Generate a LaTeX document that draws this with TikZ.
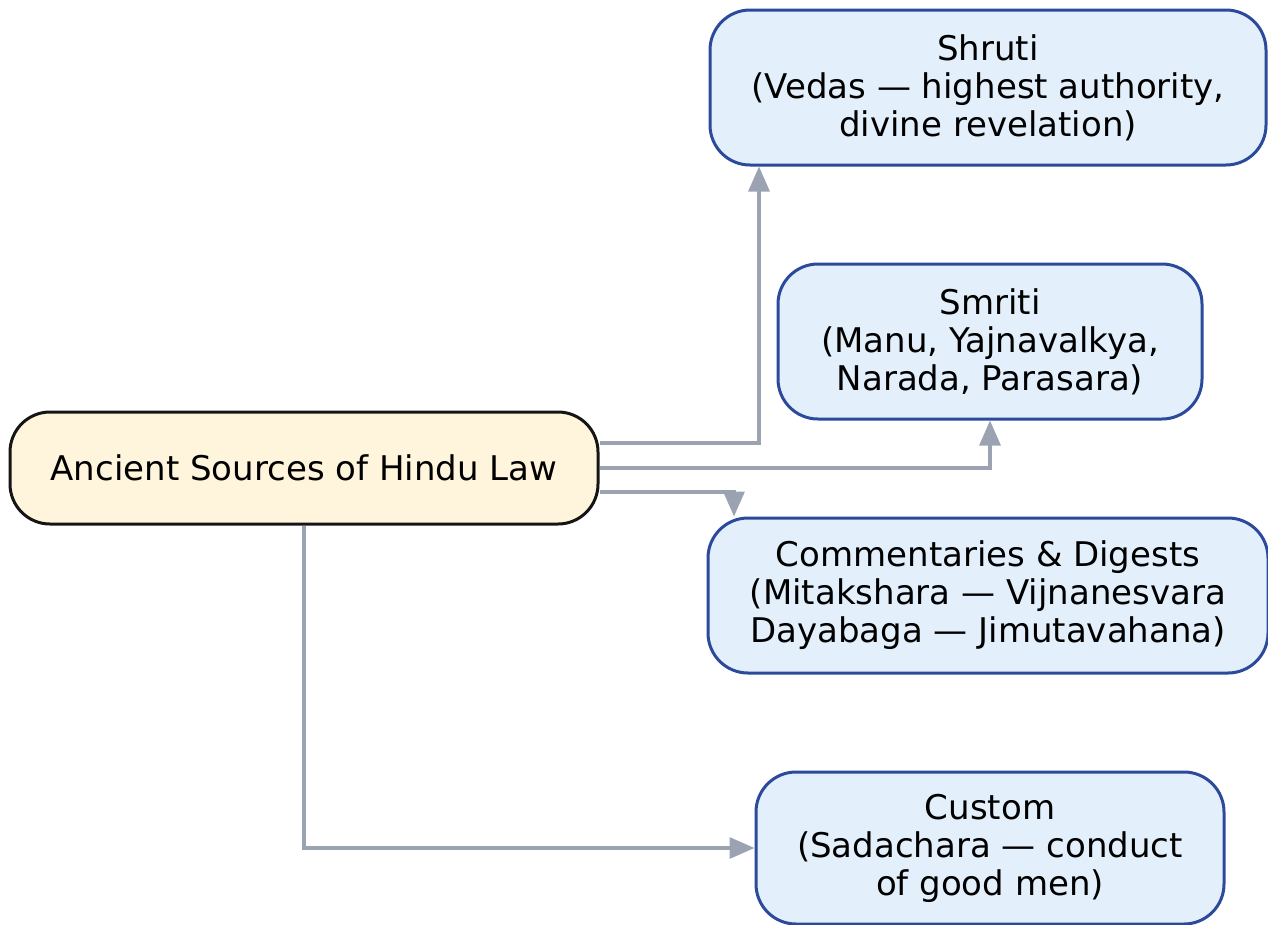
\documentclass[tikz,border=0pt]{standalone}
\usepackage{fontspec}
\setmainfont{DejaVu Sans}
\usetikzlibrary{arrows.meta}
\definecolor{srcfill}{HTML}{FFF5DC}
\definecolor{srcdraw}{HTML}{151515}
\definecolor{boxfill}{HTML}{E3F0FC}
\definecolor{boxdraw}{HTML}{2C4A9B}
\definecolor{linkcol}{HTML}{9BA3B3}
\tikzset{
  srcbox/.style={draw=srcdraw, fill=srcfill, line width=3pt, rounded corners=40pt,
    align=center, inner sep=0pt, font=\fontsize{34}{38}\selectfont},
  leafbox/.style={draw=boxdraw, fill=boxfill, line width=3pt, rounded corners=40pt,
    align=center, inner sep=0pt, minimum height=155pt, font=\fontsize{34}{38}\selectfont},
  link/.style={draw=linkcol, line width=3.2pt, -{Triangle[length=25pt,width=21pt]}}
}
\begin{document}
\begin{tikzpicture}[x=1pt,y=-1pt]
\useasboundingbox (0,0) rectangle (1268,924);

% source node
\node[srcbox, minimum width=588pt, minimum height=112pt] (src) at (304,468) {Ancient Sources of Hindu Law};

% the four sources
\node[leafbox, minimum width=556pt] (shruti) at (988,87.5)
  {Shruti\\(Vedas — highest authority,\\divine revelation)};
\node[leafbox, minimum width=424pt] (smriti) at (990,341.5)
  {Smriti\\(Manu, Yajnavalkya,\\Narada, Parasara)};
\node[leafbox, minimum width=560pt] (comm) at (988,595.5)
  {Commentaries \& Digests\\(Mitakshara — Vijnanesvara\\Dayabaga — Jimutavahana)};
\node[leafbox, minimum width=468pt, minimum height=152pt] (custom) at (990,848)
  {Custom\\(Sadachara — conduct\\of good men)};

% connectors
\draw[link] ([yshift=25pt]src.east) -| ([xshift=-229pt]shruti.south);
\draw[link] (src.east) -| (smriti.south);
\draw[link] ([yshift=-24pt]src.east) -| ([xshift=-254pt]comm.north);
\draw[link] (src.south) |- (custom.west);
\end{tikzpicture}
\end{document}
